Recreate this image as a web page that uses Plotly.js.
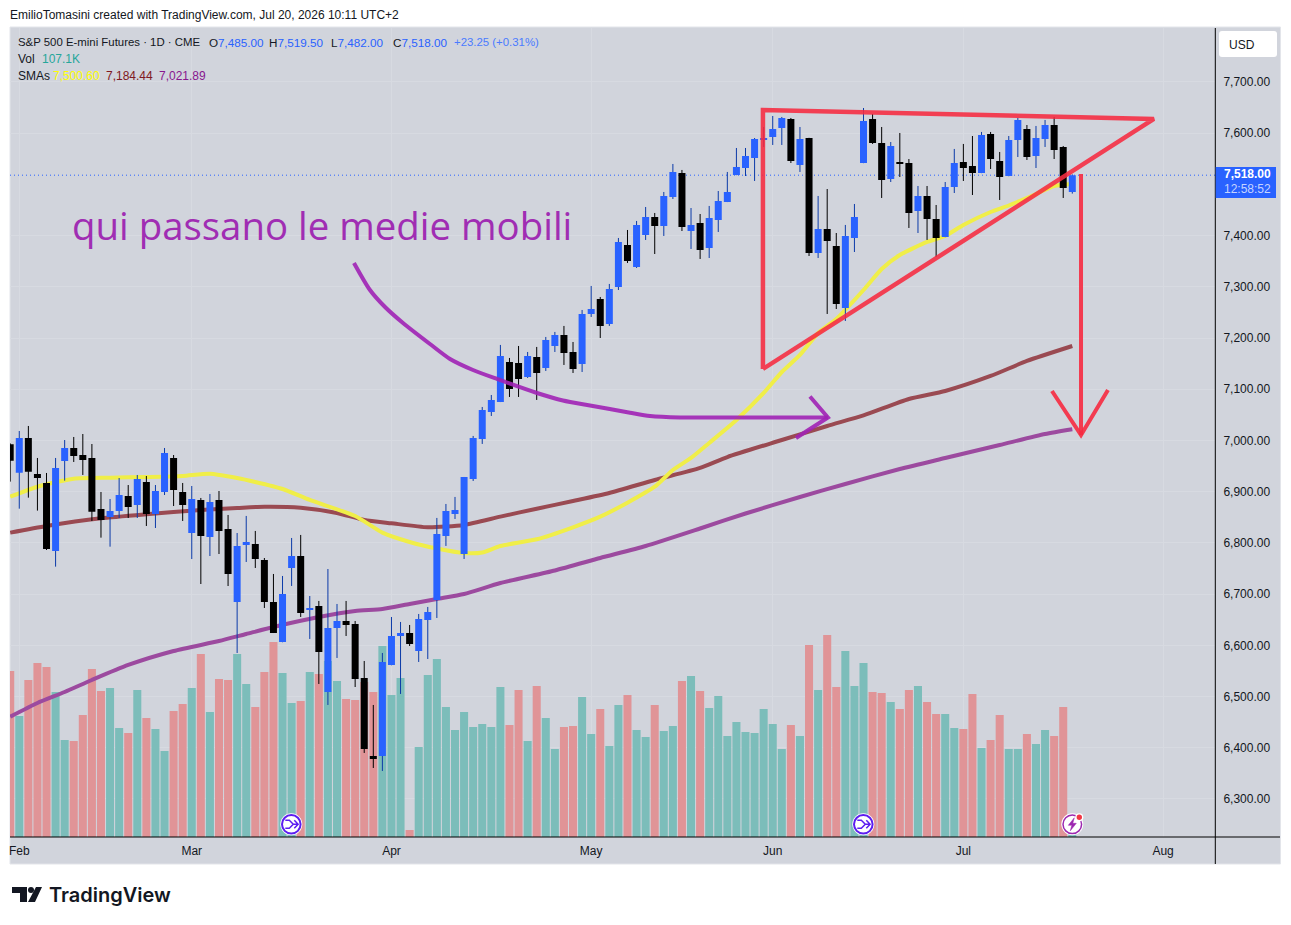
<!DOCTYPE html>
<html>
<head>
<meta charset="utf-8">
<script src="https://cdn.plot.ly/plotly-3.0.1.min.js"></script>
<style>html,body{margin:0;padding:0;background:#fff}#chart{width:1291px;height:925px}</style>
</head>
<body>
<div id="chart"></div>
<script>
// ---------- Candles (bar index 0..117) ----------
const open = [6992.5,6937.1,7004.8,6934.5,6917,6784.2,6959.9,6985.3,6971.6,6965.8,6866.2,6850.6,6862.3,6891.6,6874,6918.9,6856.4,6899.4,6965.8,6899.4,
6819.3,6883.8,6811.5,6883.8,6827.1,6684.6,6795.9,6797.9,6766.6,6684.6,6606.5,6751,6774.5,6669,6676.8,6508.9,6633.8,6647.5,6641.7,6536.2,
6383.9,6383.9,6561.6,6618.2,6624.1,6588.9,6649.5,6688.5,6813.5,6856.5,6778.4,6924.8,7003,7055.6,7075.2,7153.3,7151.3,7124,7163,7141.6,
7184.5,7206,7172.8,7149.4,7247,7276.3,7227.5,7299.7,7381.7,7338.8,7401.2,7436.4,7418.8,7475.4,7522.3,7409,7424.7,7375.9,7430.5,7465.7,
7518.4,7532,7551.6,7586.7,7592.6,7610.2,7627.8,7537.9,7590.6,7366.1,7412.9,7379.8,7258.7,7395.4,7541.8,7627.8,7580.9,7510.6,7543.8,7541.8,
7448.1,7477.4,7432.5,7397.3,7494.9,7543.8,7536,7522.3,7598.5,7545.7,7516.4,7586.7,7608.2,7555.5,7588.7,7616,7573.1,7485];
const high = [6994.4,7018.5,7028.3,6965.8,6936.5,6965.8,7000.9,7006.8,7012.6,6993.1,6899.4,6885.7,6926.7,6913,6932.6,6930.6,6913,6985.3,6971.6,6917,
6911.1,6887.7,6895.5,6901.3,6854.5,6819.3,6852.6,6823.3,6770.5,6739.3,6735.4,6809.6,6815.5,6696.3,6686.6,6749,6680.7,6686.6,6647.5,6569.4,
6483.5,6585,6655.3,6645.6,6639.7,6661.2,6674.9,6848.7,6876,6889.7,6928.7,7008.8,7065.4,7088.8,7186.5,7161.1,7184.5,7172.8,7182.6,7202.1,
7211.9,7223.6,7192.3,7254.8,7301.7,7280.2,7305.6,7395.4,7411,7428.6,7455.9,7444.2,7485.2,7539.9,7528.2,7453.9,7442.2,7457.9,7487.1,7524.3,
7571.1,7571.1,7590.6,7612.1,7633.6,7631.7,7629.7,7612.1,7591,7477.4,7491,7405.1,7420.8,7461.8,7649.2,7637.5,7612.1,7582.8,7600.4,7549.6,
7496.9,7496.9,7459.8,7504.7,7569.2,7579,7594.5,7602.4,7602.4,7563.3,7594.5,7629.7,7616,7614.1,7625.8,7631.7,7575,7519.5];
const low = [6919.6,6866.8,6888.3,6863,6786.1,6753.6,6921.5,6958,6932.6,6842.8,6810.2,6792.6,6848.6,6848.6,6848.6,6833,6829.1,6893.5,6872,6842.8,
6768.5,6719.7,6774.4,6778.3,6715.8,6585,6762.7,6751,6672.9,6624,6606,6715.9,6655.3,6612.4,6524.5,6483.5,6575.3,6618.2,6518.6,6389.8,
6360.5,6354.6,6561,6505,6598.7,6567.5,6573.3,6653.4,6794,6846.7,6768.6,6920.9,6993.2,7047.8,7075,7084.9,7084.9,7122,7079.1,7135.7,
7172.8,7147.4,7131.8,7133.7,7241.1,7200.1,7223.6,7293.8,7346.6,7336.8,7391.5,7364.1,7399.3,7471.5,7409,7373.9,7354.4,7356.3,7407.1,7465.5,
7518,7516.4,7506.7,7573.1,7577,7577,7541.8,7524.3,7360.2,7356.3,7247,7256.7,7233.3,7368,7541.5,7579,7473.5,7504.7,7514.5,7414.9,
7405.1,7391.5,7358.3,7397,7483.2,7506.7,7479.3,7522,7530.1,7469.6,7516,7553.5,7547.7,7532,7573.1,7549.6,7473.5,7482];
const close = [6960.6,7004.8,6939.1,6926.7,6788.1,6946.3,6985.3,6969.7,6961.9,6861,6844.7,6862.3,6893.5,6870.1,6924.8,6856.4,6901.3,6975.5,6903.3,6874,
6885.7,6813.5,6879.8,6823.2,6739.3,6794,6801.8,6768.6,6684.6,6624.1,6700.2,6774.5,6663.1,6672.9,6587,6633.8,6647.5,6639.7,6534.3,6397.6,
6378,6567.5,6618.2,6624.1,6602.6,6651.4,6665.1,6817.4,6862.3,6864.3,6928.7,7004.9,7059.6,7079,7165,7100.6,7120.1,7165,7131.8,7196.2,
7206,7170.9,7139.6,7247,7256.8,7223.6,7295.8,7387.6,7350.5,7420.8,7436.4,7418.8,7477.4,7524.3,7416.9,7420.8,7371.9,7434.4,7467.6,7485.2,
7534,7555.5,7588.7,7590.6,7608.2,7629.7,7545.7,7588.7,7366.1,7412.9,7389.5,7266.5,7399.3,7436.4,7623.8,7580.9,7508.6,7575,7539.9,7444.2,
7477.4,7432.5,7395.4,7494.9,7541.8,7532,7522.3,7596.5,7549.6,7514.5,7586.7,7625.8,7553.5,7590.6,7616,7567.2,7493,7518];

// ---------- Volume (thousands); 1 = teal, 0 = pink ----------
const volume = [1494,1089,1413,1566,1530,1305,873,864,1098,1512,1314,1341,981,936,1323,1071,972,774,1134,1197,
1341,1647,1125,1422,1413,1647,1377,1170,1485,1755,1476,1206,1224,1485,1467,1584,1404,1242,1233,1395,
1305,1719,1278,1431,63,810,1458,1602,1170,963,1125,990,1017,990,1350,1008,1323,864,1359,1071,
792,990,999,1260,927,1152,819,1188,1278,963,900,1188,954,999,1404,1449,1314,1161,1269,909,
1035,945,936,1152,1017,792,1008,909,1728,1323,1818,1350,1674,1359,1566,1305,1296,1215,1152,1323,
1359,1215,1107,1107,981,972,1287,801,873,1098,792,792,927,837,963,909,1170,107.1];
const volumeUp = [0,1,0,0,0,1,1,0,0,0,0,1,1,0,1,0,1,1,0,0,
1,0,1,0,0,1,1,0,0,0,1,1,0,1,0,1,1,0,0,0,
0,1,1,1,0,1,1,1,1,1,1,1,1,1,1,0,0,1,0,1,
1,0,0,1,1,0,1,1,0,1,1,0,1,1,0,1,0,1,1,1,
1,1,1,1,1,1,0,1,0,1,0,0,1,1,1,0,0,1,0,0,
1,0,0,1,1,0,0,1,0,0,1,1,0,1,1,0,0,1];

const sma20X = [0,3,7,11,15,19,22,25,27,30,33,38,41,44,47,50,52,54,58,62,65,68,71,73,75,77,80,83,85,87,89,91,94,96,98,101,103,105,108,110,113,115,117];
const sma20Y = [6890.2,6909.7,6925.4,6927.3,6928.7,6930.7,6935.1,6926.7,6918.9,6905.2,6883.8,6852.5,6820,6801.8,6789.1,6780.3,6781.3,6793.9,6807,6830.5,6851.2,6878.5,6909.7,6942.4,6965.8,6995.1,7040,7092.7,7133.7,7166.9,7209.9,7237.2,7293.8,7334.9,7362.2,7387.6,7399.3,7420.8,7446.1,7458.8,7481.3,7496.9,7500.6];
const sma100X = [0,4,10,15,21,25,28,32,36,39,42,46,50,54,58,62,66,71,76,79,85,90,94,99,103,108,112,117];
const sma100Y = [6820,6833,6848,6855.9,6864.2,6868.1,6870.7,6868.7,6858.4,6844.7,6838.3,6830.5,6835,6851.2,6866.8,6881.8,6897.4,6922.8,6946.3,6967.7,7000.9,7028.3,7048.8,7081,7096.6,7125.9,7155.2,7184.44];
const sma200X = [0,3,6,9,13,18,23,26,29,34,38,41,44,47,50,54,60,65,70,76,81,87,92,98,103,109,114,117];
const sma200Y = [6460.6,6487.4,6508.9,6532.3,6561.6,6588.9,6608.4,6622.1,6635.8,6655.3,6667,6670.9,6680.7,6690.5,6700.2,6721.7,6746.1,6770.5,6793.9,6828.1,6857.4,6889.6,6915,6944.3,6965.8,6991.2,7012.6,7021.89];

// ---------- Hand drawings (bar index, price) ----------
const triangleX = [82.92,82.92,125.99,82.92];
const triangleY = [7139.6,7645.3,7627.8,7139.6];
const downArrowX = [117.96,117.96];
const downArrowY = [7520.4,7010.7];
const downHeadX = [114.76,117.96,120.93];
const downHeadY = [7096.6,7010.7,7098.6];
const curveX = [37.87,39.63,41.29,43.27,46.24,48.45,50.98,53.62,58.03,60.89,63.87,68.28,70.48,73.78,81.49,90.08];
const curveY = [7346.6,7293.8,7260.6,7229.4,7188.4,7159.1,7137.6,7120.1,7092.7,7078.1,7068.3,7054.2,7047.8,7044.9,7044.9,7044.9];
const curveHeadX = [88.1,90.08,86.56];
const curveHeadY = [7085.9,7044.9,7004.8];

// ---------- Axis labels ----------
const priceTicks = [6300,6400,6500,6600,6700,6800,6900,7000,7100,7200,7300,7400,7600,7700];
const monthTicks = [1,20,42,64,84,105,127];
const monthLabels = ['Feb','Mar','Apr','May','Jun','Jul','Aug'];
const idx = open.map((_, i) => i);

// ---------- Styling ----------
const W = 1291, H = 925, L = 10, R = 1215, T = 28, B = 837;
const px = x => (x - L) / (R - L);
const py = y => 1 - (y - T) / (B - T);
const priceRange = [6225.7, 7805.4];
const barRange = [-0.022, 132.72];
const PANEL = '#d1d4dc', GRID = '#d7dae1', INK = '#131722', BLUE = '#2962ff', WICK = '#0b3aa8';
const UI = 'Liberation Sans, sans-serif';

function wicks(test) {
  const xs = [], ys = [];
  idx.forEach(i => { if (test(i)) { xs.push(i, i, null); ys.push(low[i], high[i], null); } });
  return {xs, ys};
}
const upW = wicks(i => close[i] >= open[i]);
const dnW = wicks(i => close[i] < open[i]);

function line(x, y, color, width, yaxis, extra) {
  return Object.assign({type:'scatter', mode:'lines', x, y, yaxis, xaxis:'x', hoverinfo:'skip',
    line:{color, width}}, extra || {});
}
const smooth = (color, width) => ({line:{color, width, shape:'spline', smoothing:0.6}});

const traces = [
  {type:'bar', x:idx, y:volume, xaxis:'x', yaxis:'y', width:0.885, hoverinfo:'skip',
   marker:{color:volumeUp.map(u => u ? '#7cbdba' : '#e09497'), line:{width:0}}},
  line(barRange, [close[117], close[117]], BLUE, 1, 'y2', {line:{color:BLUE, width:1, dash:'1px,3px'}}),
  line(sma200X, sma200Y, '#9c4a9f', 4, 'y2', smooth('#9c4a9f', 4)),
  line(sma100X, sma100Y, '#9a4a52', 4, 'y2', smooth('#9a4a52', 4)),
  line(sma20X, sma20Y, '#f0ee48', 4, 'y2', smooth('#f0ee48', 4)),
  line(upW.xs, upW.ys, WICK, 1, 'y2'),
  line(dnW.xs, dnW.ys, '#000000', 1, 'y2'),
  {type:'candlestick', x:idx, open, high, low, close, xaxis:'x', yaxis:'y3', hoverinfo:'skip',
   increasing:{line:{color:BLUE, width:0}, fillcolor:BLUE},
   decreasing:{line:{color:'#000000', width:0}, fillcolor:'#000000'}},
  line(curveX, curveY, '#a022b5', 4, 'y3', {opacity:0.9, line:{color:'#a022b5', width:4, shape:'spline', smoothing:0.7}}),
  line(curveHeadX, curveHeadY, '#a022b5', 4, 'y3', {opacity:0.9}),
  line(triangleX, triangleY, '#f62a40', 4.5, 'y3', {opacity:0.88}),
  line(downArrowX, downArrowY, '#f62a40', 4, 'y3', {opacity:0.9}),
  line(downHeadX, downHeadY, '#f62a40', 4, 'y3', {opacity:0.9})
];

// ---------- Overlay furniture in pixel-based helpers ----------
function txt(x, y, text, color, size, opts) {
  return Object.assign({xref:'paper', yref:'paper', x:px(x), y:py(y), text, showarrow:false,
    xanchor:'left', yanchor:'middle', align:'left',
    font:{family:UI, size:size||12, color:color||INK}, borderpad:0}, opts||{});
}
function rect(x0, y0, x1, y1, fill, extra) {
  return Object.assign({type:'rect', xref:'paper', yref:'paper', x0:px(x0), x1:px(x1), y0:py(y0), y1:py(y1),
    fillcolor:fill, line:{width:0}}, extra||{});
}
function ln(x0, y0, x1, y1, color, width) {
  return {type:'line', xref:'paper', yref:'paper', x0:px(x0), x1:px(x1), y0:py(y0), y1:py(y1), line:{color, width}};
}
function circ(cx, cy, r, fill, stroke, sw) {
  return {type:'circle', xref:'paper', yref:'paper', x0:px(cx-r), x1:px(cx+r), y0:py(cy+r), y1:py(cy-r),
    fillcolor:fill, line:{color:stroke||fill, width:sw||0}};
}
function poly(cx, cy, segs, stroke, sw, fill) {
  const d = segs.map(pts => pts.map((p, k) => (k ? 'L' : 'M') + px(cx + p[0]) + ',' + py(cy + p[1])).join(' ')
    + (fill ? ' Z' : '')).join(' ');
  return {type:'path', xref:'paper', yref:'paper', path:d, fillcolor:fill||'rgba(0,0,0,0)',
    line:{color:stroke, width:sw}};
}
function mergeIcon(cx, cy) {
  const c = '#5c1df0';
  return [circ(cx, cy, 11, '#ffffff'), circ(cx, cy, 9.3, '#ffffff', c, 2),
    poly(cx, cy, [[[-6,-4],[-2,-4],[2,0],[6.5,0]], [[-6,4],[-2,4],[2,0]], [[3,-4],[6.8,0],[3,4]]], c, 1.5)];
}
function boltIcon(cx, cy) {
  const c = '#9c27b0';
  return [circ(cx, cy, 11, '#ffffff'), circ(cx, cy, 9.3, '#ffffff', c, 1.5),
    poly(cx, cy, [[[2,-6.5],[-4,1],[-0.5,1],[-2,6.5],[4,-1],[0.5,-1]]], c, 0.5, c),
    circ(cx+7, cy-7, 4, '#ffffff'), circ(cx+7, cy-7, 2.7, '#f23645')];
}

const shapes = [
  rect(10, 27, 1280.5, 864, PANEL, {layer:'below', line:{color:'#e3e5ea', width:1}}),
  ln(10, 837, 1280, 837, '#000000', 1),
  ln(1215.3, 28, 1215.3, 864, '#000000', 1),
  {type:'path', xref:'paper', yref:'paper', fillcolor:'#ffffff', line:{width:0},
   path:[['M',1222,31],['L',1274,31],['Q',1277,31,1277,34],['L',1277,54],['Q',1277,57,1274,57],['L',1222,57],['Q',1219,57,1219,54],['L',1219,34],['Q',1219,31,1222,31]]
     .map(s => s[0] + (s.length === 3 ? px(s[1]) + ',' + py(s[2]) : px(s[1]) + ',' + py(s[2]) + ' ' + px(s[3]) + ',' + py(s[4]))).join(' ') + ' Z'},
  rect(1215.7, 167, 1276, 198, BLUE),
  ...mergeIcon(291.3, 824.3),
  ...mergeIcon(863.3, 824.3),
  ...boltIcon(1072.3, 824.3),
  poly(0, 0, [[[12,887],[27,887],[27,902],[20,902],[20,893],[12,893]]], '#131722', 0, '#131722'),
  circ(31, 890, 3, '#131722'),
  poly(0, 0, [[[36,887],[42,887],[35,902],[28,902]]], '#131722', 0, '#131722')
];

const annotations = [
  txt(9, 15, 'EmilioTomasini created with TradingView.com, Jul 20, 2026 10:11 UTC+2', '#131722', 12),
  txt(17, 42, 'S&amp;P 500 E-mini Futures · 1D · CME', INK, 11.4),
  txt(208, 42, 'O<span style="color:#2962ff">7,485.00</span>', INK, 11.7),
  txt(268, 42, 'H<span style="color:#2962ff">7,519.50</span>', INK, 11.7),
  txt(330, 42, 'L<span style="color:#2962ff">7,482.00</span>', INK, 11.7),
  txt(392, 42, 'C<span style="color:#2962ff">7,518.00</span>', INK, 11.7),
  txt(453, 42, '+23.25 (+0.31%)', '#4a7bff', 11.4),
  txt(17, 59, 'Vol', INK, 12),
  txt(41, 59, '107.1K', '#26a69a', 12),
  txt(17, 76, 'SMAs', INK, 12),
  txt(52, 76, '7,500.60', '#ffff00', 12),
  txt(105, 76, '7,184.44', '#801922', 12),
  txt(158, 76, '7,021.89', '#88178f', 12),
  txt(71, 224.5, 'qui passano le medie mobili', '#a02db3', 38.4, {font:{family:'Open Sans', size:38.4, color:'#a02db3'}}),
  txt(1228, 44.5, 'USD', INK, 12),
  txt(1223, 174, '7,518.00', '#ffffff', 12, {font:{family:UI, size:12, color:'#ffffff', weight:700}}),
  txt(1223, 188.5, '12:58:52', '#c6d4ff', 12),
  txt(47.5, 895, 'TradingView', '#131722', 20, {font:{family:'Inter', size:20, color:'#131722', weight:600}})
];

const hiddenY = {showgrid:false, zeroline:false, showline:false, showticklabels:false, ticks:'', fixedrange:true};

const layout = {
  width:W, height:H, autosize:false,
  margin:{l:L, r:W-R, t:T, b:H-B, pad:0},
  paper_bgcolor:'#ffffff', plot_bgcolor:'rgba(0,0,0,0)',
  showlegend:false, hovermode:false, barmode:'overlay', boxmode:'overlay', boxgap:0.23, boxgroupgap:0, dragmode:false,
  font:{family:UI, size:12, color:INK},
  xaxis:{range:barRange, type:'linear', tickmode:'array', tickvals:monthTicks, ticktext:monthLabels,
    showgrid:true, gridcolor:GRID, gridwidth:1, zeroline:false, showline:false,
    ticks:'outside', ticklen:3, tickcolor:'rgba(0,0,0,0)', tickfont:{family:UI, size:12, color:INK},
    rangeslider:{visible:false}, fixedrange:true},
  yaxis:Object.assign({range:[0,7281]}, hiddenY),
  yaxis2:Object.assign({range:priceRange, overlaying:'y'}, hiddenY),
  yaxis3:{range:priceRange, overlaying:'y', side:'right', anchor:'x', tickmode:'array', tickvals:priceTicks,
    tickformat:',.2f', showgrid:true, gridcolor:GRID, gridwidth:1, zeroline:false, showline:false,
    ticks:'outside', ticklen:5, tickcolor:'rgba(0,0,0,0)', tickfont:{family:UI, size:12, color:INK}, fixedrange:true},
  shapes, annotations
};

Plotly.newPlot('chart', traces, layout, {displayModeBar:false, staticPlot:true, responsive:false});
</script>
</body>
</html>
